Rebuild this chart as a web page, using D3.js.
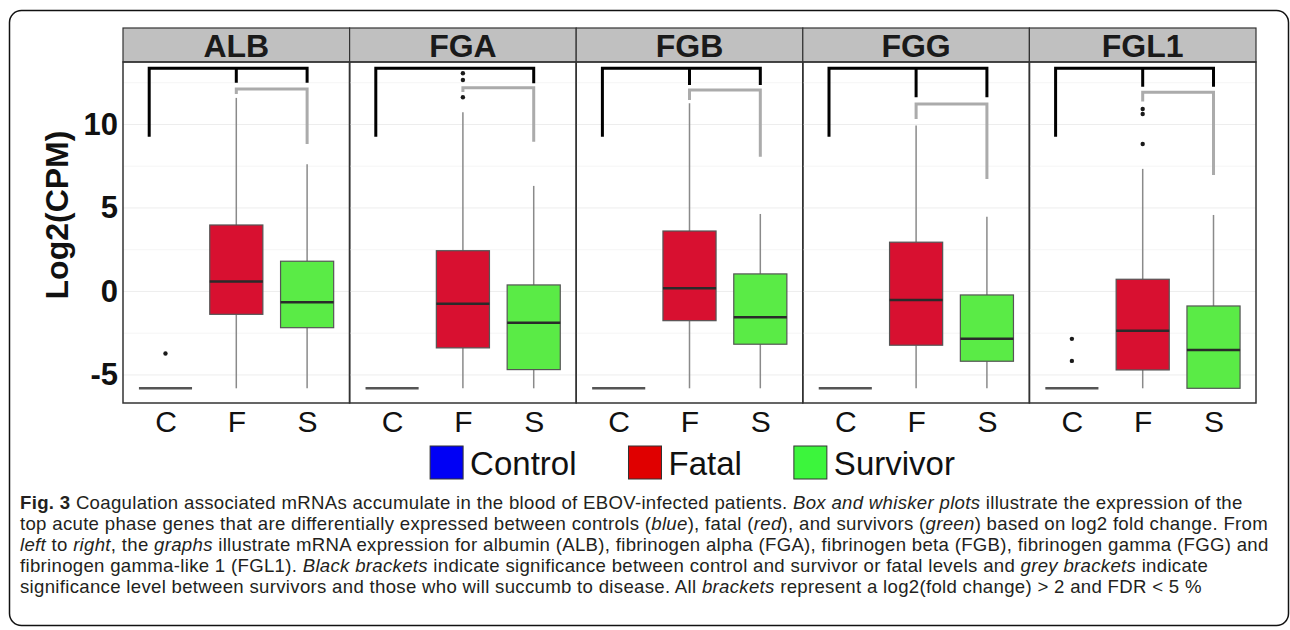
<!DOCTYPE html>
<html>
<head>
<meta charset="utf-8">
<script src="https://cdn.jsdelivr.net/npm/d3@7"></script>
<style>
  body { margin: 0; background: #fff; }
  svg { display: block; }
</style>
</head>
<body>
<script>
// genes (facets) and groups on the x axis
var genes = ["ALB", "FGA", "FGB", "FGG", "FGL1"];
var groups = ["C", "F", "S"];
var yTicks = [-5, 0, 5, 10];

// control: every quartile sits on the floor value
var controlLevel = [-5.8, -5.8, -5.8, -5.8, -5.8];
var controlOutliers = [[-3.72], [], [], [], [-2.84, -4.16]];

// fatal
var fatalLow = [-5.8, -5.8, -5.8, -5.8, -5.8];
var fatalQ1 = [-1.37, -3.38, -1.75, -3.22, -4.70];
var fatalMedian = [0.59, -0.73, 0.19, -0.51, -2.35];
var fatalQ3 = [3.98, 2.44, 3.62, 2.95, 0.73];
var fatalHigh = [11.59, 10.73, 11.27, 9.93, 7.34];
var fatalOutliers = [[], [13.07, 12.66, 11.63], [], [], [10.93, 10.63, 8.83]];

// survivor
var survivorLow = [-5.8, -5.8, -5.8, -5.8, -5.8];
var survivorQ1 = [-2.17, -4.68, -3.16, -4.18, -5.8];
var survivorMedian = [-0.65, -1.87, -1.54, -2.83, -3.50];
var survivorQ3 = [1.81, 0.39, 1.05, -0.21, -0.87];
var survivorHigh = [7.62, 6.32, 4.64, 4.48, 4.58];

// black brackets (control vs fatal / survivor)
var blackTop = [13.37, 13.37, 13.37, 13.37, 13.37];
var blackLeftEnd = [9.27, 9.27, 9.27, 9.27, 9.27];
var blackMidEnd = [12.49, null, 12.37, 11.63, 12.26];
var blackRightEnd = [12.49, 12.47, 12.37, 11.63, 12.26];

// grey brackets (fatal vs survivor)
var greyTop = [12.13, 12.2, 12.07, 11.23, 11.93];
var greyLeftEnd = [11.83, 11.95, 11.47, 10.33, 11.37];
var greyRightEnd = [8.83, 8.97, 8.07, 6.74, 6.98];

var legendLabels = ["Control", "Fatal", "Survivor"];
var legendColors = ["#0000f5", "#e00000", "#3cf53c"];

var svg = d3.select("body").append("svg")
    .attr("width", 1290)
    .attr("height", 630);

var chartFont = "'Liberation Sans', Arial, sans-serif";

// outer rounded frame
svg.append("rect")
  .attr("x", 9.5).attr("y", 10.5)
  .attr("width", 1279).attr("height", 615)
  .attr("rx", 12)
  .attr("fill", "none")
  .attr("stroke", "#111")
  .attr("stroke-width", 1.5);

var plotTop = 62, plotBottom = 403, stripTop = 28;

var x0 = d3.scaleBand().domain(genes).range([123, 1256]);
var x1 = d3.scaleLinear().domain([0.4, 3.6]).range([0, x0.bandwidth()]);
var y = d3.scaleLinear().domain([-6.68, 13.74]).range([plotBottom, plotTop]);
var pos = {C: 1, F: 2, S: 3};
var halfBox = 0.375;

function px(gene, p) { return x0(gene) + x1(p); }

// panel backgrounds + grid
var panels = svg.selectAll(".panel")
  .data(genes)
  .enter().append("g")
    .attr("class", "panel");

var gridVals = [-5, -2.5, 0, 2.5, 5, 7.5, 10, 12.5];
panels.each(function(gene) {
  d3.select(this).selectAll("line.grid")
    .data(gridVals)
    .enter().append("line")
      .attr("class", "grid")
      .attr("x1", x0(gene)).attr("x2", x0(gene) + x0.bandwidth())
      .attr("y1", function(d) { return y(d); })
      .attr("y2", function(d) { return y(d); })
      .attr("stroke", function(d) { return d % 5 === 0 ? "#ededed" : "#f5f5f5"; })
      .attr("stroke-width", 1);
});

// strips
panels.append("rect")
  .attr("x", function(d) { return x0(d); })
  .attr("y", stripTop)
  .attr("width", x0.bandwidth())
  .attr("height", plotTop - stripTop)
  .attr("fill", "#c0c0c0")
  .attr("stroke", "#333")
  .attr("stroke-width", 1.2);

panels.append("text")
  .attr("x", function(d) { return x0(d) + x0.bandwidth() / 2; })
  .attr("y", 57)
  .attr("text-anchor", "middle")
  .attr("font-family", chartFont)
  .attr("font-weight", "bold")
  .attr("font-size", 32)
  .attr("fill", "#1a1a1a")
  .text(function(d) { return d; });

// build box rows from the arrays
var boxRows = [];
genes.forEach(function(g, i) {
  boxRows.push({gene: g, group: "F", low: fatalLow[i], q1: fatalQ1[i], med: fatalMedian[i], q3: fatalQ3[i], high: fatalHigh[i], fill: "#d81030"});
  boxRows.push({gene: g, group: "S", low: survivorLow[i], q1: survivorQ1[i], med: survivorMedian[i], q3: survivorQ3[i], high: survivorHigh[i], fill: "#5aeb46"});
});

var boxes = svg.append("g").selectAll("g")
  .data(boxRows)
  .enter().append("g");

// whiskers
boxes.append("line")
  .attr("x1", function(d) { return px(d.gene, pos[d.group]); })
  .attr("x2", function(d) { return px(d.gene, pos[d.group]); })
  .attr("y1", function(d) { return y(d.low); })
  .attr("y2", function(d) { return y(d.q1); })
  .attr("stroke", "#8a8a8a").attr("stroke-width", 1.5);
boxes.append("line")
  .attr("x1", function(d) { return px(d.gene, pos[d.group]); })
  .attr("x2", function(d) { return px(d.gene, pos[d.group]); })
  .attr("y1", function(d) { return y(d.q3); })
  .attr("y2", function(d) { return y(d.high); })
  .attr("stroke", "#8a8a8a").attr("stroke-width", 1.5);

boxes.append("rect")
  .attr("x", function(d) { return px(d.gene, pos[d.group] - halfBox); })
  .attr("y", function(d) { return y(d.q3); })
  .attr("width", x1(2 * halfBox) - x1(0))
  .attr("height", function(d) { return y(d.q1) - y(d.q3); })
  .attr("fill", function(d) { return d.fill; })
  .attr("stroke", "#555")
  .attr("stroke-width", 1.2);

boxes.append("line")
  .attr("x1", function(d) { return px(d.gene, pos[d.group] - halfBox); })
  .attr("x2", function(d) { return px(d.gene, pos[d.group] + halfBox); })
  .attr("y1", function(d) { return y(d.med); })
  .attr("y2", function(d) { return y(d.med); })
  .attr("stroke", "#2a2a2a").attr("stroke-width", 2.5);

// control is a flat box
svg.append("g").selectAll("line")
  .data(genes)
  .enter().append("line")
    .attr("x1", function(d) { return px(d, pos.C - halfBox); })
    .attr("x2", function(d) { return px(d, pos.C + halfBox); })
    .attr("y1", function(d, i) { return y(controlLevel[i]); })
    .attr("y2", function(d, i) { return y(controlLevel[i]); })
    .attr("stroke", "#555").attr("stroke-width", 2.5);

// outliers
var outlierPts = [];
genes.forEach(function(g, i) {
  controlOutliers[i].forEach(function(v) { outlierPts.push({gene: g, group: "C", v: v}); });
  fatalOutliers[i].forEach(function(v) { outlierPts.push({gene: g, group: "F", v: v}); });
});
svg.append("g").selectAll("circle")
  .data(outlierPts)
  .enter().append("circle")
    .attr("cx", function(d) { return px(d.gene, pos[d.group]); })
    .attr("cy", function(d) { return y(d.v); })
    .attr("r", 2.2)
    .attr("fill", "#1a1a1a");

// brackets
var bracketLeftShift = 0.23;
var brackets = svg.append("g").selectAll("g")
  .data(genes)
  .enter().append("g");

brackets.append("path")
  .attr("d", function(g, i) {
    var xl = px(g, pos.C - bracketLeftShift), xr = px(g, pos.S);
    return "M" + xl + "," + y(blackLeftEnd[i]) + "V" + y(blackTop[i]) +
      "H" + xr + "V" + y(blackRightEnd[i]) +
      (blackMidEnd[i] === null ? "" : "M" + px(g, pos.F) + "," + y(blackTop[i]) + "V" + y(blackMidEnd[i]));
  })
  .attr("fill", "none")
  .attr("stroke", "#000")
  .attr("stroke-width", 3);

brackets.append("path")
  .attr("d", function(g, i) {
    return "M" + px(g, pos.F) + "," + y(greyLeftEnd[i]) + "V" + y(greyTop[i]) +
      "H" + px(g, pos.S) + "V" + y(greyRightEnd[i]);
  })
  .attr("fill", "none")
  .attr("stroke", "#ababab")
  .attr("stroke-width", 3);

// panel borders on top
panels.append("rect")
  .attr("x", function(d) { return x0(d); })
  .attr("y", plotTop)
  .attr("width", x0.bandwidth())
  .attr("height", plotBottom - plotTop)
  .attr("fill", "none")
  .attr("stroke", "#333")
  .attr("stroke-width", 1.5);

// y axis
var yAxis = svg.append("g")
  .attr("transform", "translate(123,0)")
  .call(d3.axisLeft(y).tickValues(yTicks).tickSize(0).tickPadding(5)
    .tickFormat(function(d) { return String(d); }));
yAxis.select(".domain").remove();
yAxis.selectAll("text")
  .attr("font-family", chartFont)
  .attr("font-weight", "bold")
  .attr("font-size", 31)
  .attr("fill", "#111");

svg.append("text")
  .attr("transform", "translate(68,215) rotate(-90)")
  .attr("text-anchor", "middle")
  .attr("font-family", chartFont)
  .attr("font-weight", "bold")
  .attr("font-size", 32)
  .attr("fill", "#111")
  .text("Log2(CPM)");

// x axes, one per panel
var xInner = d3.scalePoint().domain(groups).range([x1(1), x1(3)]);
genes.forEach(function(g) {
  var ax = svg.append("g")
    .attr("transform", "translate(" + x0(g) + "," + plotBottom + ")")
    .call(d3.axisBottom(xInner).tickSize(0).tickPadding(8));
  ax.select(".domain").remove();
  ax.selectAll("text")
    .attr("font-family", chartFont)
    .attr("font-size", 30)
    .attr("fill", "#111");
});

// legend
var legend = svg.append("g").attr("font-family", chartFont).attr("font-size", 33);
var items = legend.selectAll("g")
  .data(legendLabels)
  .enter().append("g");
items.append("rect")
  .attr("width", 33).attr("height", 33)
  .attr("y", 446)
  .attr("fill", function(d, i) { return legendColors[i]; })
  .attr("stroke", "#333")
  .attr("stroke-width", 1);
items.append("text")
  .attr("x", 40)
  .attr("y", 475)
  .attr("fill", "#111")
  .text(function(d) { return d; });

var itemW = [];
items.each(function() { itemW.push(40 + d3.select(this).select("text").node().getComputedTextLength()); });
var legendGap = 52;
var totalW = d3.sum(itemW) + legendGap * (itemW.length - 1);
var lx = (123 + 1256) / 2 - totalW / 2 + 3;
items.attr("transform", function(d, i) {
  var off = lx + d3.sum(itemW.slice(0, i)) + legendGap * i;
  return "translate(" + off + ",0)";
});

// caption
var caption = [
  [["Fig. 3", "b"], [" Coagulation associated mRNAs accumulate in the blood of EBOV-infected patients. ", ""], ["Box and whisker plots", "i"], [" illustrate the expression of the", ""]],
  [["top acute phase genes that are differentially expressed between controls (", ""], ["blue", "i"], ["), fatal (", ""], ["red", "i"], ["), and survivors (", ""], ["green", "i"], [") based on log2 fold change. From", ""]],
  [["left", "i"], [" to ", ""], ["right", "i"], [", the ", ""], ["graphs", "i"], [" illustrate mRNA expression for albumin (ALB), fibrinogen alpha (FGA), fibrinogen beta (FGB), fibrinogen gamma (FGG) and", ""]],
  [["fibrinogen gamma-like 1 (FGL1). ", ""], ["Black brackets", "i"], [" indicate significance between control and survivor or fatal levels and ", ""], ["grey brackets", "i"], [" indicate", ""]],
  [["significance level between survivors and those who will succumb to disease. All ", ""], ["brackets", "i"], [" represent a log2(fold change) > 2 and FDR < 5 %", ""]]
];

var capG = svg.append("g")
  .attr("font-family", "'Liberation Sans', Arial, sans-serif")
  .attr("font-size", 18)
  .attr("fill", "#231f20");

var capLines = capG.selectAll("text")
  .data(caption)
  .enter().append("text")
    .attr("x", 20)
    .attr("y", function(d, i) { return 509 + i * 21; });

capLines.selectAll("tspan")
  .data(function(d) { return d; })
  .enter().append("tspan")
    .attr("font-weight", function(d) { return d[1] === "b" ? "bold" : null; })
    .attr("font-style", function(d) { return d[1] === "i" ? "italic" : null; })
    .text(function(d) { return d[0]; });

// fit the second line to the width it has in the figure:
// grow the font up to a cap, then spread the letters for the rest
var line2 = capLines.nodes()[1];
var w2 = line2.getComputedTextLength();
capG.attr("font-size", Math.min(18.6, 18 * 1248 / w2));
w2 = line2.getComputedTextLength();
var nChars = line2.textContent.length;
capG.attr("letter-spacing", Math.max(0, (1248 - w2) / nChars));
</script>
</body>
</html>
